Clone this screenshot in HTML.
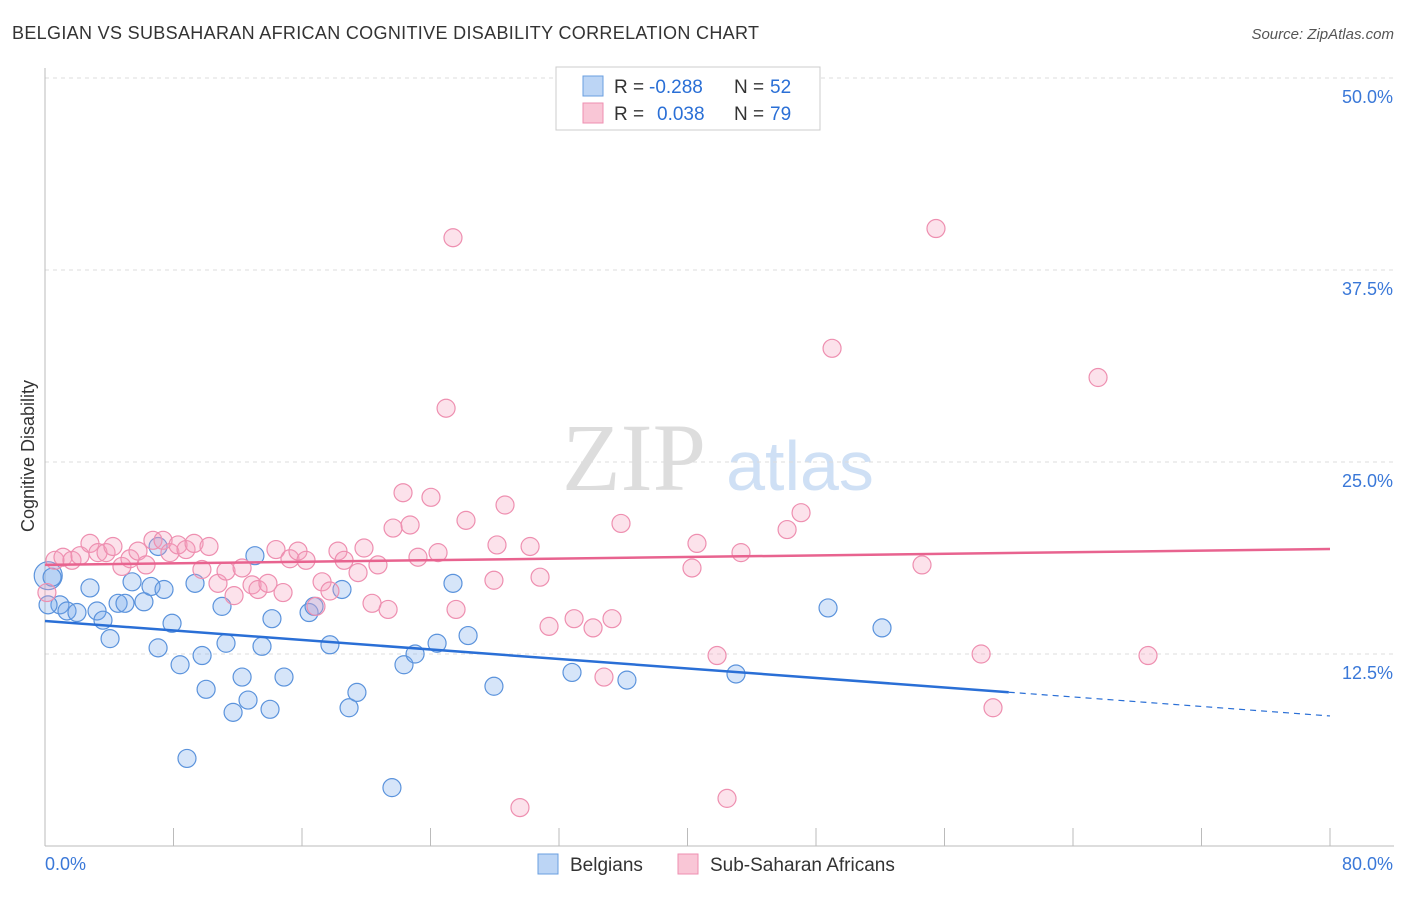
<!DOCTYPE html>
<html><head><meta charset="utf-8"><style>
body{margin:0;background:#fff;font-family:"Liberation Sans",sans-serif;}
svg text{font-family:"Liberation Sans",sans-serif;}
</style></head><body>
<svg id="chart" width="1406" height="892" xmlns="http://www.w3.org/2000/svg">
<text x="12" y="39" font-size="18" fill="#333" textLength="747">BELGIAN VS SUBSAHARAN AFRICAN COGNITIVE DISABILITY CORRELATION CHART</text>
<text x="1394" y="39" font-size="15" fill="#555" text-anchor="end" font-style="italic">Source: ZipAtlas.com</text>
<text x="34" y="456" font-size="18" fill="#333" text-anchor="middle" transform="rotate(-90 34 456)">Cognitive Disability</text>
<text x="634" y="490" font-size="96" fill="#ddd" text-anchor="middle" style="font-family:'Liberation Serif',serif">ZIP</text>
<text x="800" y="490" font-size="70" fill="#cfe0f5" text-anchor="middle">atlas</text>
<g id="grid"></g><g id="axes"></g><g id="pts"></g><g id="trend"></g>
<g>
<rect x="556" y="67" width="264" height="63" fill="#fff" stroke="#ccc"/>
<rect x="583" y="76" width="20" height="20" fill="#bcd5f5" stroke="#6a9fe0"/>
<rect x="583" y="103" width="20" height="20" fill="#f9c6d6" stroke="#ee8fb0"/>
<text x="614" y="93" font-size="19" fill="#333">R =</text>
<text x="649" y="93" font-size="19" fill="#2a6fd6">-0.288</text>
<text x="734" y="93" font-size="19" fill="#333">N =</text>
<text x="770" y="93" font-size="19" fill="#2a6fd6">52</text>
<text x="614" y="120" font-size="19" fill="#333">R =</text>
<text x="657" y="120" font-size="19" fill="#2a6fd6">0.038</text>
<text x="734" y="120" font-size="19" fill="#333">N =</text>
<text x="770" y="120" font-size="19" fill="#2a6fd6">79</text>
</g>
<g>
<rect x="538" y="854" width="20" height="20" fill="#bcd5f5" stroke="#6a9fe0"/>
<text x="570" y="871" font-size="19" fill="#333">Belgians</text>
<rect x="678" y="854" width="20" height="20" fill="#f9c6d6" stroke="#ee8fb0"/>
<text x="710" y="871" font-size="19" fill="#333">Sub-Saharan Africans</text>
</g>
</svg>
<script>
const blueX=[0.2,0.44,0.93,1.37,1.99,2.80,3.24,3.61,4.05,4.55,4.98,5.42,6.16,6.60,7.04,7.41,7.04,7.91,8.41,9.34,9.78,10.03,11.02,11.27,11.71,12.27,12.64,13.07,13.51,14.01,14.13,14.88,16.44,16.75,17.74,18.49,18.93,19.42,21.60,22.35,23.04,24.41,25.40,26.34,27.95,32.81,36.23,43.02,48.75,52.11,8.84,0.19];
const blueY=[17.6,17.5,15.7,15.3,15.2,16.8,15.3,14.7,13.5,15.8,15.8,17.2,15.9,16.9,19.5,16.7,12.9,14.5,11.8,17.1,12.4,10.2,15.6,13.2,8.7,11.0,9.5,18.9,13.0,8.9,14.8,11.0,15.2,15.6,13.1,16.7,9.0,10.0,3.8,11.8,12.5,13.2,17.1,13.7,10.4,11.3,10.8,11.2,15.5,14.2,5.7,15.7];
const pinkX=[0.12,0.62,1.12,1.68,2.18,2.80,3.30,3.80,4.23,4.79,5.29,5.79,6.29,6.72,7.35,7.78,8.28,8.78,9.28,9.77,10.21,10.77,11.27,11.77,12.27,12.89,13.26,13.88,14.38,14.82,15.25,15.75,16.25,16.87,17.25,17.74,18.24,18.62,19.49,19.86,20.36,20.73,21.36,21.67,22.29,22.73,23.22,24.03,24.47,24.97,25.40,25.59,26.21,27.95,28.14,28.64,29.57,30.20,30.82,31.38,32.94,34.12,34.80,35.30,35.86,40.28,40.59,41.84,42.46,43.33,46.20,47.07,49.00,54.60,55.47,58.28,59.02,65.56,68.67];
const pinkY=[16.5,18.6,18.8,18.6,18.9,19.7,19.1,19.1,19.5,18.2,18.7,19.2,18.3,19.9,19.9,19.1,19.6,19.3,19.7,18.0,19.5,17.1,17.9,16.3,18.1,17.0,16.7,17.1,19.3,16.5,18.7,19.2,18.6,15.6,17.2,16.6,19.2,18.6,17.8,19.4,15.8,18.3,15.4,20.7,23.0,20.9,18.8,22.7,19.1,28.5,39.6,15.4,21.2,17.3,19.6,22.2,2.5,19.5,17.5,14.3,14.8,14.2,11.0,14.8,21.0,18.1,19.7,12.4,3.1,19.1,20.6,21.7,32.4,18.3,40.2,12.5,9.0,30.5,12.4];
const yTicks=[12.5,25.0,37.5,50.0];
const xTickVals=[0,8,16,24,32,40,48,56,64,72,80];
const blueTrend=[14.65,-0.0773];
const pinkTrend=[18.3,0.0129];
const NS="http://www.w3.org/2000/svg";
const X=v=>45+v*1285/80, Y=v=>846-v*192/12.5;
function mk(t,a,p){const e=document.createElementNS(NS,t);for(const k in a)e.setAttribute(k,a[k]);document.getElementById(p).appendChild(e);return e;}
yTicks.forEach(t=>{
 const l=mk('line',{x1:45,x2:1394,y1:Y(t),y2:Y(t),stroke:'#ddd','stroke-dasharray':'4,4'},'grid');
 
 
 const tx=mk('text',{x:1393,y:Y(t)+25,'font-size':18,fill:'#3a78d8','text-anchor':'end'},'grid');tx.textContent=t.toFixed(1)+'%';
 
 
});
const ax=mk('line',{x1:45,x2:45,y1:68,y2:846,stroke:'#bbb'},'axes');


const bx=mk('line',{x1:45,x2:1394,y1:846,y2:846,stroke:'#bbb'},'axes');


xTickVals.forEach(t=>{const l=mk('line',{x1:X(t),x2:X(t),y1:828,y2:846,stroke:'#bbb'},'axes');
 
 });
[[0,'0.0%','start',45],[80,'80.0%','end',1393]].forEach(a=>{const t=mk('text',{x:a[3],y:870,'font-size':18,fill:'#3a78d8','text-anchor':a[2]},'axes');t.textContent=a[1];
 
 });
blueX.forEach((x,i)=>{const c=mk('circle',{cx:X(x),cy:Y(blueY[i]),r:i==0?14:9,fill:'rgba(120,170,235,0.3)',stroke:'#5b93dc','stroke-width':1.2},'pts');
 
 });
pinkX.forEach((x,i)=>{const c=mk('circle',{cx:X(x),cy:Y(pinkY[i]),r:9,fill:'rgba(245,160,190,0.3)',stroke:'#ee8fb0','stroke-width':1.2},'pts');
 
 });
const bl=mk('line',{x1:X(0),y1:Y(blueTrend[0]),x2:X(60),y2:Y(blueTrend[0]+blueTrend[1]*60),stroke:'#2a6fd6','stroke-width':2.5},'trend');


const bd=mk('line',{x1:X(60),y1:Y(blueTrend[0]+blueTrend[1]*60),x2:X(80),y2:Y(blueTrend[0]+blueTrend[1]*80),stroke:'#2a6fd6','stroke-width':1.2,'stroke-dasharray':'6,5'},'trend');


const pl=mk('line',{x1:X(0),y1:Y(pinkTrend[0]),x2:X(80),y2:Y(pinkTrend[0]+pinkTrend[1]*80),stroke:'#e8638f','stroke-width':2.5},'trend');


</script>
</body></html>
